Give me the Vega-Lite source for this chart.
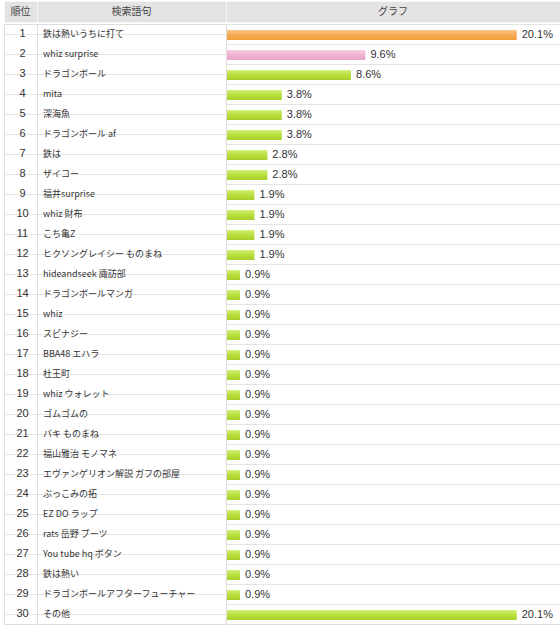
{
  "$schema": "https://vega.github.io/schema/vega-lite/v6.json",
  "background": "#ffffff",
  "padding": {"left": 3, "top": 0, "right": 1, "bottom": 4},
  "spacing": 0,
  "config": {
    "view": {"stroke": "#dddddd"},
    "concat": {"spacing": 0},
    "text": {"color": "#333333"}
  },
  "datasets": {
    "rows": [
      {"rank": 1, "term": "鉄は熱いうちに打て", "share": 0.201, "kind": "first"},
      {"rank": 2, "term": "whiz surprise", "share": 0.096, "kind": "second"},
      {"rank": 3, "term": "ドラゴンボール", "share": 0.086, "kind": "other"},
      {"rank": 4, "term": "mita", "share": 0.038, "kind": "other"},
      {"rank": 5, "term": "深海魚", "share": 0.038, "kind": "other"},
      {"rank": 6, "term": "ドラゴンボール af", "share": 0.038, "kind": "other"},
      {"rank": 7, "term": "鉄は", "share": 0.028, "kind": "other"},
      {"rank": 8, "term": "ザイコー", "share": 0.028, "kind": "other"},
      {"rank": 9, "term": "福井surprise", "share": 0.019, "kind": "other"},
      {"rank": 10, "term": "whiz 財布", "share": 0.019, "kind": "other"},
      {"rank": 11, "term": "こち亀Z", "share": 0.019, "kind": "other"},
      {"rank": 12, "term": "ヒクソングレイシー ものまね", "share": 0.019, "kind": "other"},
      {"rank": 13, "term": "hideandseek 諏訪部", "share": 0.009, "kind": "other"},
      {"rank": 14, "term": "ドラゴンボールマンガ", "share": 0.009, "kind": "other"},
      {"rank": 15, "term": "whiz", "share": 0.009, "kind": "other"},
      {"rank": 16, "term": "スピナジー", "share": 0.009, "kind": "other"},
      {"rank": 17, "term": "BBA48 エハラ", "share": 0.009, "kind": "other"},
      {"rank": 18, "term": "杜王町", "share": 0.009, "kind": "other"},
      {"rank": 19, "term": "whiz ウォレット", "share": 0.009, "kind": "other"},
      {"rank": 20, "term": "ゴムゴムの", "share": 0.009, "kind": "other"},
      {"rank": 21, "term": "バキ ものまね", "share": 0.009, "kind": "other"},
      {"rank": 22, "term": "福山雅治 モノマネ", "share": 0.009, "kind": "other"},
      {"rank": 23, "term": "エヴァンゲリオン解説 ガフの部屋", "share": 0.009, "kind": "other"},
      {"rank": 24, "term": "ぶっこみの拓", "share": 0.009, "kind": "other"},
      {"rank": 25, "term": "EZ DO ラップ", "share": 0.009, "kind": "other"},
      {"rank": 26, "term": "rats 岳野 ブーツ", "share": 0.009, "kind": "other"},
      {"rank": 27, "term": "You tube hq ボタン", "share": 0.009, "kind": "other"},
      {"rank": 28, "term": "鉄は熱い", "share": 0.009, "kind": "other"},
      {"rank": 29, "term": "ドラゴンボールアフターフューチャー", "share": 0.009, "kind": "other"},
      {"rank": 30, "term": "その他", "share": 0.201, "kind": "other"}
    ]
  },
  "vconcat": [
    {
      "spacing": 0,
      "bounds": "flush",
      "hconcat": [
        {
          "width": 33, "height": 21,
          "view": {"fill": "#e3e3e3", "stroke": "#f6f6f6"},
          "data": {"values": [{"h": "順位"}]},
          "mark": {"type": "text", "font": "Noto Sans CJK JP", "fontSize": 10, "color": "#444444", "baseline": "middle"},
          "encoding": {"text": {"field": "h"}}
        },
        {
          "width": 189, "height": 21,
          "view": {"fill": "#e3e3e3", "stroke": "#f6f6f6"},
          "data": {"values": [{"h": "検索語句"}]},
          "mark": {"type": "text", "font": "Noto Sans CJK JP", "fontSize": 10, "color": "#444444", "baseline": "middle"},
          "encoding": {"text": {"field": "h"}}
        },
        {
          "width": 334, "height": 21,
          "view": {"fill": "#e3e3e3", "stroke": "#f6f6f6"},
          "data": {"values": [{"h": "グラフ"}]},
          "mark": {"type": "text", "font": "Noto Sans CJK JP", "fontSize": 10, "color": "#444444", "baseline": "middle"},
          "encoding": {"text": {"field": "h"}}
        }
      ]
    },
    {
      "spacing": 0,
      "bounds": "flush",
      "hconcat": [
        {
          "width": 33, "height": 600,
          "data": {"name": "rows"},
          "mark": {"type": "text", "font": "Liberation Sans", "fontSize": 11, "baseline": "middle", "dx": 2},
          "encoding": {
            "y": {"field": "rank", "type": "ordinal", "sort": "ascending",
                  "scale": {"paddingInner": 0, "paddingOuter": 0},
                  "axis": {"title": null, "labels": false, "ticks": false, "domain": false, "grid": true, "bandPosition": 0, "gridColor": "#e4e4e4", "minExtent": 0, "maxExtent": 0}},
            "text": {"field": "rank", "type": "ordinal"}
          }
        },
        {
          "width": 189, "height": 600,
          "data": {"name": "rows"},
          "mark": {"type": "text", "font": "Noto Sans CJK JP", "fontSize": 9, "align": "left", "baseline": "middle", "dx": 6},
          "encoding": {
            "x": {"datum": 0, "type": "quantitative", "scale": {"domain": [0, 1]}, "axis": null},
            "y": {"field": "rank", "type": "ordinal", "sort": "ascending",
                  "scale": {"paddingInner": 0, "paddingOuter": 0},
                  "axis": {"title": null, "labels": false, "ticks": false, "domain": false, "grid": true, "bandPosition": 0, "gridColor": "#e4e4e4", "minExtent": 0, "maxExtent": 0}},
            "text": {"field": "term", "type": "nominal"}
          }
        },
        {
          "width": 334, "height": 600,
          "data": {"name": "rows"},
          "encoding": {
            "y": {"field": "rank", "type": "ordinal", "sort": "ascending",
                  "scale": {"paddingInner": 0, "paddingOuter": 0},
                  "axis": {"title": null, "labels": false, "ticks": false, "domain": false, "grid": true, "bandPosition": 0, "gridColor": "#e4e4e4", "minExtent": 0, "maxExtent": 0}},
            "x": {"field": "share", "type": "quantitative", "scale": {"domain": [-0.0007, 0.231], "nice": false, "zero": false}, "axis": null}
          },
          "layer": [
            {
              "mark": {"type": "bar", "height": 10, "yOffset": 1},
              "encoding": {
                "x2": {"datum": 0},
                "color": {
                  "condition": [
                    {"test": "datum.kind === 'first'", "value": {"gradient": "linear", "x1": 0, "y1": 0, "x2": 0, "y2": 1, "stops": [{"offset": 0, "color": "#fac589"}, {"offset": 0.5, "color": "#f6ab52"}, {"offset": 1, "color": "#f2a040"}]}},
                    {"test": "datum.kind === 'second'", "value": {"gradient": "linear", "x1": 0, "y1": 0, "x2": 0, "y2": 1, "stops": [{"offset": 0, "color": "#f6cde2"}, {"offset": 0.5, "color": "#efb3d1"}, {"offset": 1, "color": "#e9a5c7"}]}}
                  ],
                  "value": {"gradient": "linear", "x1": 0, "y1": 0, "x2": 0, "y2": 1, "stops": [{"offset": 0, "color": "#d2ee7a"}, {"offset": 0.5, "color": "#b8de3c"}, {"offset": 1, "color": "#a8d02c"}]}
                }
              }
            },
            {
              "mark": {"type": "text", "font": "Liberation Sans", "fontSize": 11, "align": "left", "baseline": "middle", "dx": 5, "dy": 1},
              "encoding": {"text": {"field": "share", "type": "quantitative", "format": ".1%"}}
            }
          ]
        }
      ]
    }
  ]
}
